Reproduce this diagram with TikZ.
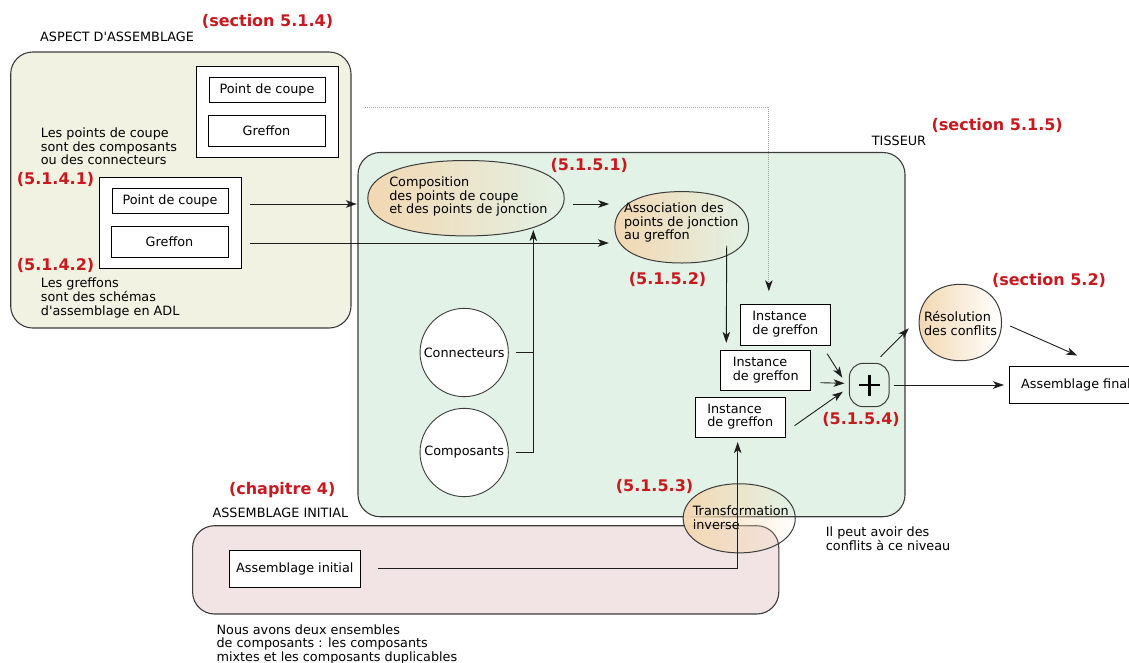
\documentclass[tikz,border=0pt]{standalone}
\usepackage{fontspec}
\newfontfamily\dejavu{DejaVu Sans}
\usetikzlibrary{shapes.geometric,arrows.meta,fadings,calc}

\definecolor{aspectbg}{RGB}{242,242,227}
\definecolor{tisseurbg}{RGB}{227,242,230}
\definecolor{initbg}{RGB}{242,228,228}
\definecolor{blobfill}{RGB}{243,216,178}
\definecolor{secred}{RGB}{200,25,30}
\definecolor{frame}{RGB}{60,60,60}
\definecolor{inkline}{RGB}{30,30,30}
\definecolor{dotgray}{RGB}{160,160,160}

\newcommand\txtfont{\dejavu\fontsize{12.8}{12.7}\selectfont}
\newcommand\secfont{\dejavu\bfseries\fontsize{16}{16}\selectfont}
% first baseline of the block sits on the node's base anchor
\newcommand\txtlines[1]{\begin{tabular}[t]{@{}l@{}}#1\end{tabular}}
% block centred on the node
\newcommand\txtblock[1]{\begin{tabular}{@{}l@{}}#1\end{tabular}}
% squarish oval through the four side anchors of a node (#2 = corner fullness)
\newcommand\blobpath[2]{(#1.east)
  .. controls ($(#1.east)!#2!(#1.north east)$) and ($(#1.north)!#2!(#1.north east)$) .. (#1.north)
  .. controls ($(#1.north)!#2!(#1.north west)$) and ($(#1.west)!#2!(#1.north west)$) .. (#1.west)
  .. controls ($(#1.west)!#2!(#1.south west)$) and ($(#1.south)!#2!(#1.south west)$) .. (#1.south)
  .. controls ($(#1.south)!#2!(#1.south east)$) and ($(#1.east)!#2!(#1.south east)$) .. (#1.east) -- cycle}
\newcommand\drawblob[2]{%
  \fill[blobfill, path fading=east] \blobpath{#1}{#2};
  \draw[frame, line width=1pt] \blobpath{#1}{#2};}

\begin{document}
\begin{tikzpicture}[x=1pt,y=-1pt,
  container/.style={draw=frame, line width=1.1pt, rounded corners=22pt, inner sep=0pt},
  box/.style={draw=black, fill=white, line width=0.9pt, inner sep=0pt, font=\txtfont},
  blob/.style={rectangle, inner sep=0pt},
  roundnode/.style={circle, draw=frame, fill=white, line width=0.9pt, inner sep=0pt,
    minimum size=88.3pt, font=\txtfont},
  note/.style={font=\txtfont, inner sep=0pt, anchor=base west},
  intext/.style={font=\txtfont, inner sep=0pt},
  sec/.style={font=\secfont, text=secred, inner sep=0pt},
  wire/.style={draw=inkline, line width=0.9pt},
  link/.style={wire, -{Stealth[length=11pt,width=7.5pt,inset=3pt]}},
  dotlink/.style={draw=dotgray, line width=1pt, dash pattern=on 1pt off 1pt,
    -{Stealth[length=11pt,width=7.5pt,inset=3pt,color=inkline]}},
]
\useasboundingbox (0,0) rectangle (1129,662);
\clip (0,0) rectangle (1129,662);

% ---------- aspect d'assemblage ----------
\node[container, fill=aspectbg, minimum width=340.3pt, minimum height=276pt] (aspect) at (180.85,190) {};
\node[note] (aspectTitle) at (40,41.7) {ASPECT D'ASSEMBLAGE};
\node[sec] (secA) at (267.5,21.7) {(section 5.1.4)};

\node[box, minimum width=142pt, minimum height=91pt] (inner1) at (267,111.5) {};
\node[box, minimum width=116pt, minimum height=25pt] (pc1) at (267,89.5) {Point de coupe};
\node[box, minimum width=117pt, minimum height=31pt] (gr1) at (266.5,130.5) {Greffon};

\node[note] (noteCoupe) at (40.7,137.7) {\txtlines{Les points de coupe\\sont des composants\\ou des connecteurs}};
\node[sec] (secA1) at (55.5,179) {(5.1.4.1)};

\node[box, minimum width=142pt, minimum height=91pt] (inner2) at (170,222.5) {};
\node[box, minimum width=116pt, minimum height=25pt] (pc2) at (170,200.5) {Point de coupe};
\node[box, minimum width=117pt, minimum height=31pt] (gr2) at (169.5,241.5) {Greffon};

\node[sec] (secA2) at (55.5,265) {(5.1.4.2)};
\node[note] (noteGreffon) at (40.7,287.5) {\txtlines{Les greffons\\sont des sch\'emas\\d'assemblage en ADL}};

% ---------- tisseur ----------
\node[container, fill=tisseurbg, minimum width=547pt, minimum height=364.2pt] (tisseur) at (631.5,334.6) {};
\node[note] (tisseurTitle) at (871.7,145) {TISSEUR};
\node[sec] (secB) at (997.2,125) {(section 5.1.5)};

\node[blob, minimum width=196pt, minimum height=75pt] (compo) at (466,198.2) {};
\drawblob{compo}{0.62}
\node[intext] (compoText) at ([shift={(2.4,-0.7)}]compo.center) {\txtblock{Composition\\des points de coupe\\et des points de jonction}};
\node[sec] (secB1) at (589.3,165) {(5.1.5.1)};

\node[blob, minimum width=133.3pt, minimum height=71pt] (assoc) at (681.7,227.3) {};
\drawblob{assoc}{0.63}
\node[intext] (assocText) at ([shift={(-0.4,-4.2)}]assoc.center) {\txtblock{Association des\\points de jonction\\au greffon}};
\node[sec] (secB2) at (667.5,279) {(5.1.5.2)};

\node[roundnode] (conn) at (464.2,352.5) {Connecteurs};
\node[roundnode] (comps) at (464.2,452.5) {Composants};

\node[box, minimum width=90pt, minimum height=41pt] (inst1) at (785.3,324.8) {\txtblock{Instance\\de greffon}};
\node[box, minimum width=90pt, minimum height=40.4pt] (inst2) at (765.7,370.5) {\txtblock{Instance\\de greffon}};
\node[box, minimum width=90.3pt, minimum height=40.7pt] (inst3) at (740.2,417.3) {\txtblock{Instance\\de greffon}};

\node[draw=frame, line width=1pt, rounded corners=14pt, inner sep=0pt,
      minimum width=39.7pt, minimum height=43.4pt] (plus) at (869.2,385) {};
\draw[line width=2.8pt, draw=black] (plus.center) +(-10.5,0) -- +(10.5,0)
      (plus.center) +(0,-10.5) -- +(0,10.5);
\node[sec] (secB4) at (861,419.3) {(5.1.5.4)};

% ---------- hors tisseur ----------
\node[blob, minimum width=82pt, minimum height=76pt] (reso) at (960.3,322.5) {};
\drawblob{reso}{0.6}
\node[intext] (resoText) at ([shift={(0.2,3)}]reso.center) {\txtblock{R\'esolution\\des conflits}};
\node[sec] (secC) at (1049,280) {(section 5.2)};

\node[box, anchor=west, inner xsep=11.4pt, minimum height=37.3pt] (final) at (1009.3,384.65)
  {\makebox[108pt][l]{Assemblage final}};

% ---------- assemblage initial ----------
\node[container, fill=initbg, minimum width=586.2pt, minimum height=88.3pt] (initzone) at (485.7,569.85) {};
\node[note] (initTitle) at (212.4,517.3) {ASSEMBLAGE INITIAL};
\node[sec] (secD) at (282.2,490) {(chapitre 4)};
\node[box, minimum width=131.6pt, minimum height=37.7pt] (ai) at (294.8,568.85) {Assemblage initial};
\node[note] (noteInit) at (216.4,634) {\txtlines{Nous avons deux ensembles\\de composants : les composants\\mixtes et les composants duplicables}};

\node[blob, minimum width=111.7pt, minimum height=68.7pt] (transf) at (739.2,518.3) {};
\drawblob{transf}{0.58}
\node[intext] (transfText) at ([shift={(1.6,1.2)}]transf.center) {\txtblock{Transformation\\inverse}};
\node[sec] (secB3) at (654.5,486.7) {(5.1.5.3)};
\node[note] (noteConflits) at (825.7,536.7) {\txtlines{Il peut avoir des\\conflits \`a ce niveau}};

% ---------- connecteurs ----------
\coordinate (rowA) at (0,204);
\coordinate (rowB) at (0,243);
\coordinate (busX) at (533.3,0);
\coordinate (compoIn) at (533.3,230);
\coordinate (dotStart) at (365,107.3);

\draw[link, shorten <=9pt, shorten >=11pt] (inner2.east |- rowA) -- (compo.west |- rowA);
\draw[link, shorten <=9pt, shorten >=6pt] (inner2.east |- rowB) -- (assoc.west |- rowB);
\draw[link, shorten <=8.7pt, shorten >=5.7pt] (compo.east |- rowA) -- (assoc.west |- rowA);

\draw[wire, shorten <=7.5pt] (conn.east) -- (conn.east -| busX);
\draw[link, shorten <=7.5pt] (comps.east) -| (compoIn);

\draw[link, shorten >=7pt] ([shift={(45,18.3)}]assoc.center) -- ([xshift=6pt]inst2.north west);
\draw[dotlink, shorten >=12.6pt] (dotStart) -| ([xshift=29pt]inst1.north west);

\draw[link] ([shift={(-3.6,8)}]inst1.south east) -- ([shift={(-6.6,-7.3)}]plus.west);
\draw[link] ([shift={(9.3,12.2)}]inst2.east) -- ([shift={(-4.3,-1.7)}]plus.west);
\draw[link] ([shift={(8.7,8.4)}]inst3.east) -- ([shift={(-6,6.7)}]plus.west);

\draw[link] ([shift={(-9,-6)}]plus.north east) -- ([shift={(-10.3,5.8)}]reso.west);
\draw[link] ([shift={(8.7,3.5)}]reso.east) -- ([shift={(68,-10)}]final.north west);
\draw[link, shorten <=4.3pt, shorten >=5.3pt] (plus.east) -- (plus.east -| final.west);

\draw[link, shorten <=17pt, shorten >=4pt] (ai.east) -| ([xshift=-2.5pt]inst3.south);
\end{tikzpicture}
\end{document}
